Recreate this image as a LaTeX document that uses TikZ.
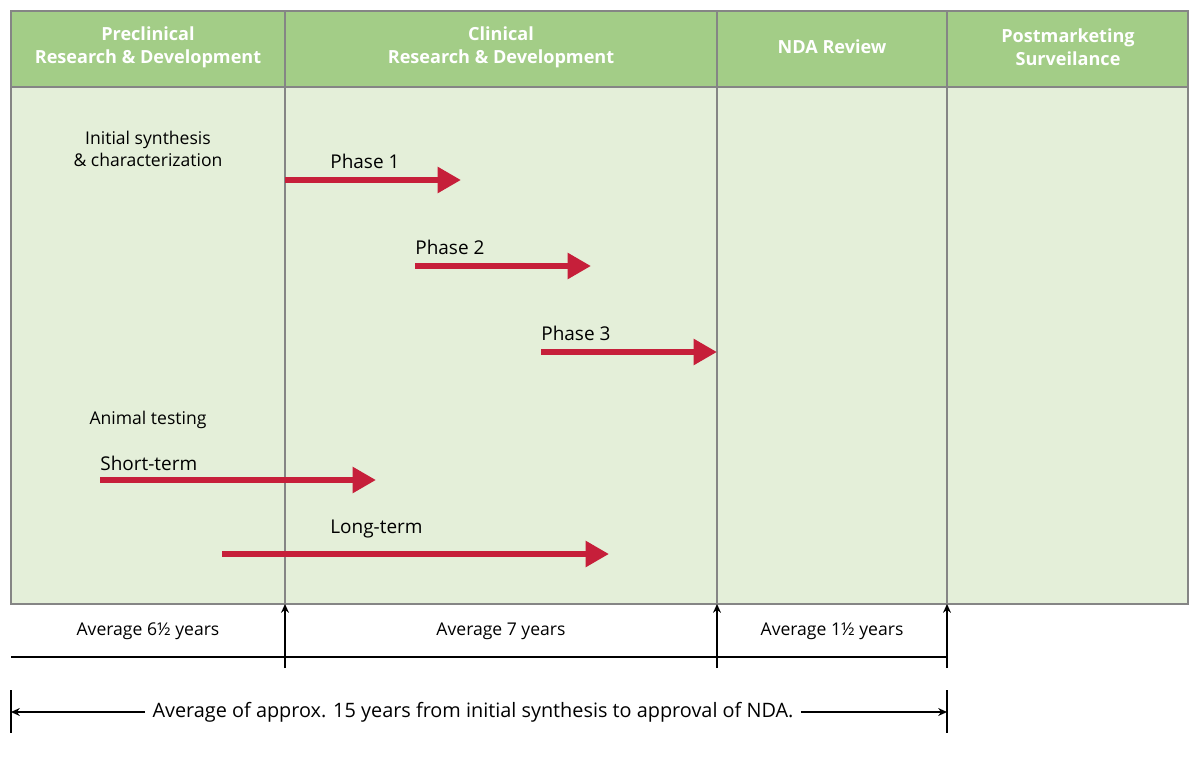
\documentclass[tikz,border=0pt]{standalone}
\usepackage{fontspec}
\setmainfont{Open Sans}
\usetikzlibrary{arrows.meta}

\definecolor{headgreen}{HTML}{A3CD87}
\definecolor{bodygreen}{HTML}{E4EFD9}
\definecolor{framegray}{HTML}{858585}
\definecolor{phasered}{HTML}{C61F3A}

\begin{document}
\begin{tikzpicture}[x=0.02cm, y=-0.02cm,
    head/.style={font=\fontsize{10.3}{13.2}\selectfont\bfseries, text=white, align=center},
    lbl/.style={font=\fontsize{10}{12.5}\selectfont, align=center},
    phaselbl/.style={font=\fontsize{10.8}{12}\selectfont, anchor=west, inner sep=0pt},
    bar/.style={phasered, line width=0.12cm, -{Triangle[length=0.47cm, width=0.5cm]}},
    up/.style={line width=1pt, -{Stealth[length=5pt, width=4.5pt]}}]
    \useasboundingbox (0,0) rectangle (1200,757);

    % table
    \fill[headgreen] (11,11) rectangle (1188,87);
    \fill[bodygreen] (11,87) rectangle (1188,604);
    \draw[framegray, line width=0.9pt] (11,11) rectangle (1188,604);
    \draw[framegray, line width=0.9pt] (11,87) -- (1188,87);
    \draw[framegray, line width=0.9pt] (285,11) -- (285,604);
    \draw[framegray, line width=0.9pt] (717,11) -- (717,604);
    \draw[framegray, line width=0.9pt] (947,11) -- (947,604);

    \node[head] (pre) at (148,47) {Preclinical\\Research \& Development};
    \node[head] (clin) at (501,47) {Clinical\\Research \& Development};
    \node[head] (nda) at (832,47) {NDA Review};
    \node[head] (post) at (1068,47) {Postmarketing\\Surveilance};

    \node[lbl] (synth) at (148,149) {Initial synthesis\\\& characterization};
    \node[lbl] (animal) at (148,420) {Animal testing};

    % phases
    \node[phaselbl] (ph1) at (330,161) {Phase 1};
    \node[phaselbl] (ph2) at (415,247) {Phase 2};
    \node[phaselbl] (ph3) at (541,333) {Phase 3};
    \node[phaselbl] (short) at (100,463) {Short-term};
    \node[phaselbl] (long) at (330,529) {Long-term};

    \coordinate (ph1s) at (285,180);  \coordinate (ph1e) at (461,180);
    \coordinate (ph2s) at (415,266);  \coordinate (ph2e) at (591,266);
    \coordinate (ph3s) at (541,352);  \coordinate (ph3e) at (717,352);
    \coordinate (shorts) at (100,480); \coordinate (shorte) at (376,480);
    \coordinate (longs) at (222,554);  \coordinate (longe) at (609,554);

    \draw[bar] (ph1s) -- (ph1e);
    \draw[bar] (ph2s) -- (ph2e);
    \draw[bar] (ph3s) -- (ph3e);
    \draw[bar] (shorts) -- (shorte);
    \draw[bar] (longs) -- (longe);

    % durations
    \node[lbl] (avg1) at (148,631) {Average 6½ years};
    \node[lbl] (avg2) at (501,631) {Average 7 years};
    \node[lbl] (avg3) at (832,631) {Average 1½ years};

    \coordinate (b1) at (285,668); \coordinate (t1) at (285,604);
    \coordinate (b2) at (717,668); \coordinate (t2) at (717,604);
    \coordinate (b3) at (947,668); \coordinate (t3) at (947,604);
    \draw[up] (b1) -- (t1);
    \draw[up] (b2) -- (t2);
    \draw[up] (b3) -- (t3);
    \draw[line width=1pt] (11,657) -- (947,657);

    % total span
    \node[lbl, font=\fontsize{11.3}{13}\selectfont, inner sep=4pt] (span) at (473,712) {Average of approx. 15 years from initial synthesis to approval of NDA.};
    \coordinate (spanl) at (11,712);
    \coordinate (spanr) at (947,712);
    \draw[up] (span.west) -- (spanl);
    \draw[up] (span.east) -- (spanr);
    \draw[line width=1pt] (11,690) -- (11,733);
    \draw[line width=1pt] (947,690) -- (947,733);
\end{tikzpicture}
\end{document}
